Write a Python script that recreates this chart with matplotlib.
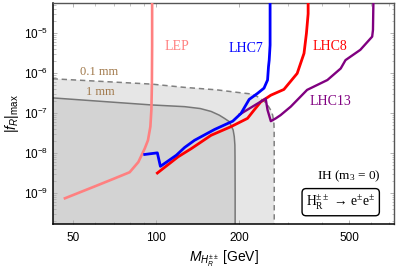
import matplotlib
matplotlib.use('Agg')
import matplotlib.pyplot as plt
import numpy as np
from matplotlib.ticker import FixedLocator, NullFormatter

lep_m = [46.6, 60, 70, 80, 86, 90.7, 93.2, 95.1, 95.9, 96.3, 96.5, 96.5]
lep_f = [7.5e-10, 1.5e-9, 2.3e-9, 3.35e-9, 6e-9, 1.3e-8, 2.1e-8, 4.6e-8, 1.2e-7, 5e-7, 5e-6, 1e-4]

lhc7_m = [90.7, 100.8, 103.4, 118.1, 126.6, 137.5, 162.4, 189.2, 202.6, 217, 232.5, 245.6, 253, 255, 256.5, 258.4, 258.4]
lhc7_f = [9.3e-9, 1.02e-8, 4.7e-9, 8.9e-9, 1.39e-8, 2.1e-8, 3.9e-8, 6.3e-8, 9.8e-8, 2.2e-7, 3.1e-7, 4.2e-7, 6.7e-7, 1.45e-6, 2.1e-6, 5e-6, 1e-4]

lhc8_m = [100.8, 119.8, 133.8, 157.9, 186.5, 214, 226, 239, 260, 290, 324, 343, 350, 355, 355]
lhc8_f = [3.2e-9, 8.1e-9, 1.3e-8, 2.8e-8, 4.6e-8, 7.4e-8, 1.19e-7, 1.9e-7, 2.8e-7, 3.9e-7, 9.8e-7, 3.1e-6, 9.8e-6, 3e-5, 1e-4]

lhc13_m = [200.5, 249, 253, 260, 271, 282, 307, 352, 417, 466, 485, 549, 606, 610, 613]
lhc13_f = [9.3e-8, 2.3e-7, 1.19e-7, 6.3e-8, 7.4e-8, 8.9e-8, 1.45e-7, 3.8e-7, 6.7e-7, 1.3e-6, 2.1e-6, 3.8e-6, 8.1e-6, 1.19e-5, 1e-4]

# decay length contours
mm01_m = [42, 96, 126, 166, 196, 221, 232, 244, 253, 259.7, 264, 266.6, 267.3, 267.5, 267.5]
mm01_f = [7.2e-7, 5.3e-7, 4.4e-7, 3.8e-7, 3.3e-7, 3.0e-7, 2.6e-7, 2.1e-7, 1.6e-7, 1.19e-7, 8.9e-8, 6e-8, 4e-8, 1e-8, 1e-10]
mm1_m = [42, 96, 126.6, 144.3, 158, 169, 176.5, 184, 186.5, 189.8, 191.6, 192.6, 192.8, 193, 193]
mm1_f = [2.4e-7, 1.6e-7, 1.45e-7, 1.3e-7, 1.1e-7, 8.9e-8, 7.4e-8, 6.1e-8, 4.9e-8, 3.8e-8, 2.6e-8, 1.6e-8, 8.1e-9, 1e-9, 1e-10]

x_ticks = [50, 100, 200, 500]
x_ticklabels = ['50', '100', '200', '500']

plt.rcParams['font.family'] = 'sans-serif'
plt.rcParams['font.sans-serif'] = ['Liberation Sans']
plt.rcParams['mathtext.fontset'] = 'custom'
plt.rcParams['mathtext.rm'] = 'Liberation Sans'
plt.rcParams['mathtext.it'] = 'Liberation Sans:italic'

fig = plt.figure(figsize=(3.99, 2.71), dpi=100)
ax = fig.add_axes([0.133, 0.173, 0.854, 0.816])
ax.set_xscale('log')
ax.set_yscale('log')
ax.set_xlim(42.2, 726)
ax.set_ylim(1.7e-10, 5.6e-5)

# shaded regions
ax.fill(list(mm01_m) + [42], list(mm01_f) + [1e-10], color='#E6E6E6', lw=0, zorder=0)
ax.fill(list(mm1_m) + [42], list(mm1_f) + [1e-10], color='#D3D3D3', lw=0, zorder=0.5)
ax.plot(mm01_m, mm01_f, color='#808080', lw=1.1, ls=(0, (3.5, 2.5)), zorder=1)
ax.plot(mm1_m, mm1_f, color='#777777', lw=1.1, zorder=1)

ax.plot(lep_m, lep_f, color='#FF8080', lw=1.9, zorder=3)
ax.plot(lhc8_m, lhc8_f, color='#FF0000', lw=2, zorder=3)
ax.plot(lhc7_m, lhc7_f, color='#0000FF', lw=2, zorder=4)
ax.plot(lhc13_m, lhc13_f, color='#800080', lw=1.7, zorder=3)

serif = 'Liberation Serif'
ax.text(119, 4.7e-6, 'LEP', color='#FF8080', fontsize=10, family=serif, ha='center', va='center')
ax.text(212, 4.2e-6, 'LHC7', color='#0000FF', fontsize=10, family=serif, ha='center', va='center')
ax.text(426, 4.7e-6, 'LHC8', color='#FF0000', fontsize=10, family=serif, ha='center', va='center')
ax.text(426, 1.9e-7, 'LHC13', color='#800080', fontsize=10, family=serif, ha='center', va='center')
ax.text(62, 1.05e-6, '0.1 mm', color='#A0784A', fontsize=9, family=serif, ha='center', va='center')
ax.text(62.7, 3.3e-7, '1 mm', color='#A0784A', fontsize=9, family=serif, ha='center', va='center')
ax.text(648, 2.7e-9, r'IH ($\mathregular{m_3}$ = 0)', fontsize=9.5, family=serif, ha='right', va='center')
ax.text(622, 6.0e-10, 'H$\\mathregular{_R^{\\pm\\pm}}$ \u2192 e$\\mathregular{^{\\pm}}$e$\\mathregular{^{\\pm}}$',
        fontsize=9.8, family=serif, ha='right', va='center',
        bbox=dict(boxstyle='round,pad=0.3', fc='white', ec='black', lw=1))

ax.xaxis.set_major_locator(FixedLocator(x_ticks))
ax.set_xticklabels(x_ticklabels)
ax.xaxis.set_minor_formatter(NullFormatter())
ax.tick_params(axis='both', which='both', direction='in', top=True, right=True,
               color='#AAAAAA', labelsize=8.5)
ax.tick_params(which='major', length=3, width=0.6)
ax.tick_params(which='minor', length=1.8, width=0.5)
ax.tick_params(axis='x', pad=6)

for s in ['left', 'bottom']:
    ax.spines[s].set_linewidth(1.1)
    ax.spines[s].set_color('black')
for s in ['top', 'right']:
    ax.spines[s].set_linewidth(1.0)
    ax.spines[s].set_color('#555555')

ax.set_xlabel(r'$M_{H_R^{\pm\pm}}$ [GeV]', fontsize=10, labelpad=3)
ax.set_ylabel(r'$|f_R|_{\mathrm{max}}$', fontsize=10, labelpad=2)

plt.savefig('out.png', dpi=100)
